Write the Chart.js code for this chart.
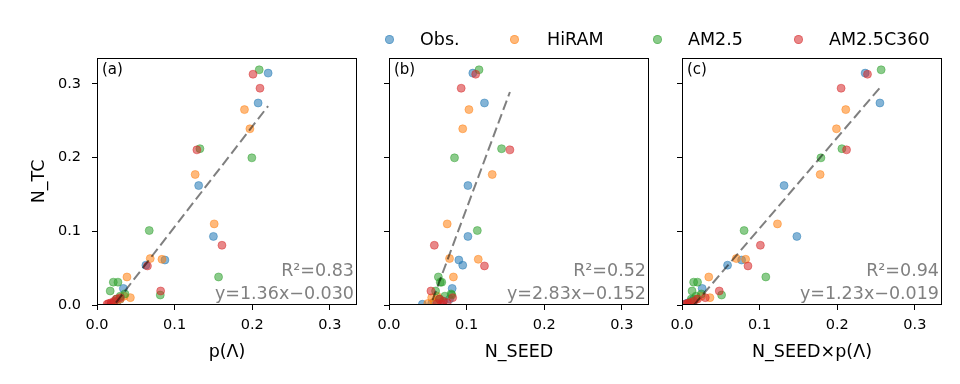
<!DOCTYPE html>
<html>
<head>
<meta charset="utf-8">
<script src="https://cdn.jsdelivr.net/npm/chart.js@4"></script>
<style>
body { margin: 0; background: #fff; }
#wrap { position: relative; width: 960px; height: 384px; font-family: "DejaVu Sans", sans-serif; }
#wrap canvas { position: absolute; left: 0; top: 0; }
.dot { position: absolute; width: 7px; height: 7px; border-radius: 50%; }
.lbl { position: absolute; font-size: 17.5px; line-height: 20px; color: #000; white-space: nowrap; }
</style>
</head>
<body>
<div id="wrap">
  <canvas id="pa" width="960" height="384"></canvas>
  <canvas id="pb" width="960" height="384"></canvas>
  <canvas id="pc" width="960" height="384"></canvas>
  <div id="legend"></div>
</div>
<script>
// series names and colours
var seriesNames = ['Obs.', 'HiRAM', 'AM2.5', 'AM2.5C360'];
var seriesRGB = ['31,119,180', '255,127,14', '44,160,44', '214,39,40'];

// N_TC (same in every panel)
var obsTC   = [0.3145, 0.274, 0.162, 0.093, 0.061, 0.054, 0.0225, 0.008, 0.005, 0.003, 0.002, 0.001];
var hiramTC = [0.265, 0.239, 0.177, 0.110, 0.063, 0.062, 0.038, 0.010, 0.012, 0.008, 0.004, 0.002];
var am25TC  = [0.319, 0.212, 0.1996, 0.101, 0.038, 0.0135, 0.031, 0.031, 0.019, 0.015, 0.012, 0.008];
var c360TC  = [0.313, 0.294, 0.2104, 0.081, 0.053, 0.019, 0.010, 0.008, 0.005, 0.003, 0.002, 0.001];

// (a) p(Lambda)
var obsP   = [0.2205, 0.2076, 0.131, 0.150, 0.0875, 0.063, 0.034, 0.030, 0.026, 0.022, 0.020, 0.018];
var hiramP = [0.190, 0.197, 0.1265, 0.151, 0.0686, 0.0837, 0.0386, 0.043, 0.035, 0.030, 0.025, 0.020];
var am25P  = [0.209, 0.1326, 0.1995, 0.0673, 0.1566, 0.0815, 0.021, 0.027, 0.017, 0.036, 0.030, 0.025];
var c360P  = [0.201, 0.210, 0.1287, 0.161, 0.065, 0.082, 0.030, 0.025, 0.022, 0.018, 0.015, 0.013];

// (b) N_SEED
var obsSeed   = [0.108, 0.123, 0.1017, 0.1017, 0.090, 0.095, 0.0814, 0.078, 0.070, 0.060, 0.055, 0.043];
var hiramSeed = [0.103, 0.095, 0.133, 0.075, 0.078, 0.115, 0.083, 0.055, 0.062, 0.065, 0.058, 0.050];
var am25Seed  = [0.116, 0.145, 0.0844, 0.1138, 0.0636, 0.081, 0.066, 0.068, 0.060, 0.080, 0.072, 0.065];
var c360Seed  = [0.1117, 0.093, 0.1558, 0.0584, 0.123, 0.054, 0.082, 0.065, 0.070, 0.075, 0.062, 0.068];

// (c) N_SEED x p(Lambda)
var obsProd   = [0.236, 0.255, 0.1315, 0.148, 0.0768, 0.0587, 0.026, 0.015, 0.012, 0.008, 0.006, 0.003];
var hiramProd = [0.211, 0.199, 0.178, 0.123, 0.070, 0.082, 0.0345, 0.036, 0.025, 0.018, 0.012, 0.008];
var am25Prod  = [0.2566, 0.206, 0.179, 0.080, 0.108, 0.051, 0.015, 0.020, 0.013, 0.025, 0.018, 0.012];
var c360Prod  = [0.239, 0.205, 0.212, 0.101, 0.085, 0.048, 0.030, 0.020, 0.015, 0.010, 0.007, 0.004];

// fits
var fitSlope = [1.36, 2.83, 1.23];
var fitIntercept = [-0.030, -0.152, -0.019];
var fitR2 = [0.83, 0.52, 0.94];

var panelTags = ['(a)', '(b)', '(c)'];
var xTitles = ['p(Λ)', 'N_SEED', 'N_SEED×p(Λ)'];
var axisTicks = [0.0, 0.1, 0.2, 0.3];

var tcAll = [obsTC, hiramTC, am25TC, c360TC];
var panelX = [
  [obsP, hiramP, am25P, c360P],
  [obsSeed, hiramSeed, am25Seed, c360Seed],
  [obsProd, hiramProd, am25Prod, c360Prod]
];

// plot box positions
var boxLeft = [97, 389, 682];
var boxRight = [357, 649, 942];
var boxTop = 58, boxBottom = 305;
var yAxisW = 68, xAxisH = 58;
var FONT = '"DejaVu Sans", sans-serif';

var framePlugin = {
  id: 'frame',
  afterDraw: function (chart, args, o) {
    var ctx = chart.ctx, a = chart.chartArea;
    ctx.save();
    ctx.strokeStyle = '#000';
    ctx.lineWidth = 1;
    ctx.strokeRect(Math.round(a.left) + 0.5, Math.round(a.top) + 0.5,
      Math.round(a.right - a.left) - 1, Math.round(a.bottom - a.top) - 1);
    ctx.textBaseline = 'alphabetic';
    ctx.font = '15px ' + FONT;
    ctx.fillStyle = '#000';
    ctx.textAlign = 'left';
    ctx.fillText(o.tag, a.left + 5, a.top + 16);
    ctx.font = '17.5px ' + FONT;
    ctx.fillStyle = '#808080';
    ctx.textAlign = 'right';
    ctx.fillText(o.r2, a.right - 3, a.bottom - 29);
    ctx.fillText(o.eq, a.right - 3, a.bottom - 6);
    ctx.restore();
  }
};

function makePanel(i, id) {
  var xs = panelX[i];
  var all = [].concat(xs[0], xs[1], xs[2], xs[3]);
  var x0 = Math.min.apply(null, all), x1 = Math.max.apply(null, all);
  var datasets = seriesNames.map(function (name, k) {
    return {
      type: 'scatter',
      label: name,
      data: xs[k].map(function (x, j) { return { x: x, y: tcAll[k][j] }; }),
      backgroundColor: 'rgba(' + seriesRGB[k] + ',0.55)',
      borderColor: 'rgba(' + seriesRGB[k] + ',0.45)',
      borderWidth: 1,
      pointRadius: 4,
      order: 5 - k
    };
  });
  datasets.push({
    type: 'line',
    label: 'fit',
    data: [
      { x: x0, y: fitSlope[i] * x0 + fitIntercept[i] },
      { x: x1, y: fitSlope[i] * x1 + fitIntercept[i] }
    ],
    borderColor: 'rgba(0,0,0,0.5)',
    borderWidth: 2,
    borderDash: [10, 4.5],
    pointRadius: 0,
    fill: false,
    order: 0
  });

  return new Chart(document.getElementById(id), {
    type: 'scatter',
    data: { datasets: datasets },
    options: {
      responsive: false,
      animation: false,
      events: [],
      layout: {
        padding: {
          left: boxLeft[i] - yAxisW,
          right: 960 - boxRight[i],
          top: boxTop,
          bottom: 384 - boxBottom - xAxisH
        }
      },
      plugins: {
        legend: { display: false },
        tooltip: { enabled: false },
        frame: {
          tag: panelTags[i],
          r2: 'R\u00b2=' + fitR2[i].toFixed(2),
          eq: 'y=' + fitSlope[i].toFixed(2) + 'x' + (fitIntercept[i] < 0 ? '\u2212' : '+') + Math.abs(fitIntercept[i]).toFixed(3)
        }
      },
      scales: {
        x: {
          type: 'linear',
          min: 0, max: 0.335,
          afterBuildTicks: function (s) { s.ticks = axisTicks.map(function (v) { return { value: v }; }); },
          afterFit: function (s) { s.height = xAxisH; },
          ticks: {
            font: { family: FONT, size: 14.5 }, color: '#000', padding: 7, maxRotation: 0,
            callback: function (v) { return v.toFixed(1); }
          },
          grid: { drawOnChartArea: false, color: '#000', tickLength: 5 },
          border: { display: false },
          title: { display: true, text: xTitles[i], color: '#000', font: { family: FONT, size: 17.5 }, padding: 0 }
        },
        y: {
          type: 'linear',
          min: 0, max: 0.335,
          afterBuildTicks: function (s) { s.ticks = axisTicks.map(function (v) { return { value: v }; }); },
          afterFit: function (s) { s.width = yAxisW; },
          ticks: {
            font: { family: FONT, size: 14.5 }, color: '#000', padding: 11,
            callback: function (v) { return i === 0 ? v.toFixed(1) : ''; }
          },
          grid: { drawOnChartArea: false, color: '#000', tickLength: 5 },
          border: { display: false },
          title: { display: i === 0, text: 'N_TC', color: '#000', font: { family: FONT, size: 17.5 }, padding: 0 }
        }
      }
    },
    plugins: [framePlugin]
  });
}

makePanel(0, 'pa');
makePanel(1, 'pb');
makePanel(2, 'pc');

// legend row above the panels
var legDot = [389, 514, 657, 798];
var legTxt = [420, 547, 688, 829];
var leg = document.getElementById('legend');
seriesNames.forEach(function (name, k) {
  var d = document.createElement('div');
  d.className = 'dot';
  d.style.left = (legDot[k] - 4) + 'px';
  d.style.top = (39 - 4) + 'px';
  d.style.background = 'rgba(' + seriesRGB[k] + ',0.55)';
  d.style.border = '1px solid rgba(' + seriesRGB[k] + ',0.45)';
  leg.appendChild(d);
  var t = document.createElement('div');
  t.className = 'lbl';
  t.style.left = legTxt[k] + 'px';
  t.style.top = (39 - 10) + 'px';
  t.textContent = name;
  leg.appendChild(t);
});
</script>
</body>
</html>
